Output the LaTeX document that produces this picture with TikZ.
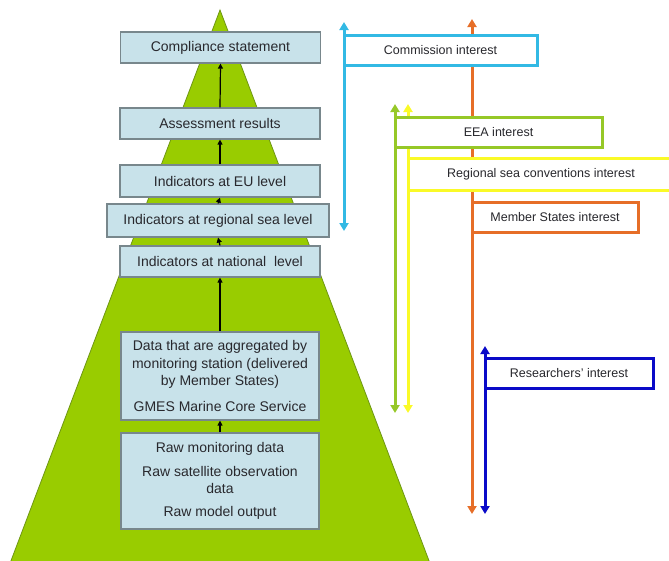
\documentclass[tikz,border=0pt]{standalone}
\usepackage{fontspec}
\setmainfont{Liberation Sans}
\usetikzlibrary{arrows.meta}
\definecolor{pyrfill}{RGB}{153,204,0}
\definecolor{pyredge}{RGB}{110,150,20}
\definecolor{boxfill}{RGB}{200,226,234}
\definecolor{boxedge}{RGB}{120,135,140}
\definecolor{txt}{RGB}{40,40,45}
\definecolor{ccyan}{RGB}{50,185,228}
\definecolor{corange}{RGB}{230,110,40}
\definecolor{cgreen}{RGB}{150,200,40}
\definecolor{cyellow}{RGB}{250,250,40}
\definecolor{cblue}{RGB}{10,10,200}
\tikzset{
  lbox/.style={draw=boxedge, fill=boxfill, line width=1.2pt, minimum width=200pt,
    minimum height=31pt, inner sep=0pt, text=txt, align=center,
    font=\fontsize{14}{17.5}\selectfont},
  rbox/.style={draw=#1, fill=white, line width=3pt, minimum height=30pt,
    inner sep=0pt, text=txt, font=\fontsize{12.5}{15}\selectfont},
  uparrow/.style={draw=black, line width=1.2pt, -{Triangle[width=5pt,length=5pt]}},
  interest/.style={draw=#1, line width=3pt,
    {Triangle[width=9pt,length=8pt]}-{Triangle[width=9pt,length=8pt]}}
}
\begin{document}
\begin{tikzpicture}[x=1pt,y=-1pt]
\useasboundingbox (0,0) rectangle (669,560);
% pyramid
\coordinate (apex) at (220,10);
\coordinate (bl) at (9,566);
\coordinate (br) at (431,566);
\fill[pyrfill, draw=pyredge, line width=0.8pt] (apex) -- (br) -- (bl) -- cycle;
% left boxes
\node[lbox] (comp) at (220.5,47.5) {Compliance statement};
\node[lbox] (assess) at (220,123.5) {Assessment results};
\node[lbox, minimum height=32pt] (eu) at (220,181) {Indicators at EU level};
\node[lbox, minimum width=222pt, minimum height=33pt] (regional) at (218,220.5) {Indicators at regional sea level};
\node[lbox] (national) at (220,261.5) {Indicators at national\ \ level};
\node[lbox, minimum width=198pt, minimum height=88pt] (data) at (220,376)
  {Data that are aggregated by\\monitoring station (delivered\\by Member States)\\[8pt]GMES Marine Core Service};
\node[lbox, minimum width=198pt, minimum height=96pt] (raw) at (220,481)
  {Raw monitoring data\\[6pt]Raw satellite observation\\data\\[5pt]Raw model output};
% black arrows
\draw[uparrow] (assess.north) -- (comp.south);
\draw[uparrow] (eu.north) -- (assess.south);
\draw[uparrow] (regional.north) -- (eu.south);
\draw[uparrow] (national.north) -- (regional.south);
\draw[uparrow] (data.north) -- (national.south);
\draw[uparrow] (raw.north) -- (data.south);
% interest lines
\coordinate (cyanT) at (344,22);
\coordinate (cyanB) at (344,231);
\coordinate (orT) at (472,19);
\coordinate (orB) at (472,514);
\coordinate (grT) at (395,104);
\coordinate (grB) at (395,413);
\coordinate (yeT) at (408,104);
\coordinate (yeB) at (408,413);
\coordinate (blT) at (485,346);
\coordinate (blB) at (485,514);
\draw[interest=corange] (orT) -- (orB);
\draw[interest=cgreen] (grT) -- (grB);
\draw[interest=cyellow] (yeT) -- (yeB);
\draw[interest=ccyan] (cyanT) -- (cyanB);
\draw[interest=cblue] (blT) -- (blB);
% interest boxes
\node[rbox=ccyan, minimum width=193pt] (comm) at (440.5,50) {Commission interest};
\node[rbox=cgreen, minimum width=207pt] (eea) at (498.5,132) {EEA interest};
\node[rbox=cyellow, minimum width=266pt, minimum height=32pt] (rsc) at (541,174) {Regional sea conventions interest};
\node[rbox=corange, minimum width=166pt] (ms) at (555,217) {Member States interest};
\node[rbox=cblue, minimum width=168pt] (res) at (569,373) {Researchers' interest};
\end{tikzpicture}
\end{document}
